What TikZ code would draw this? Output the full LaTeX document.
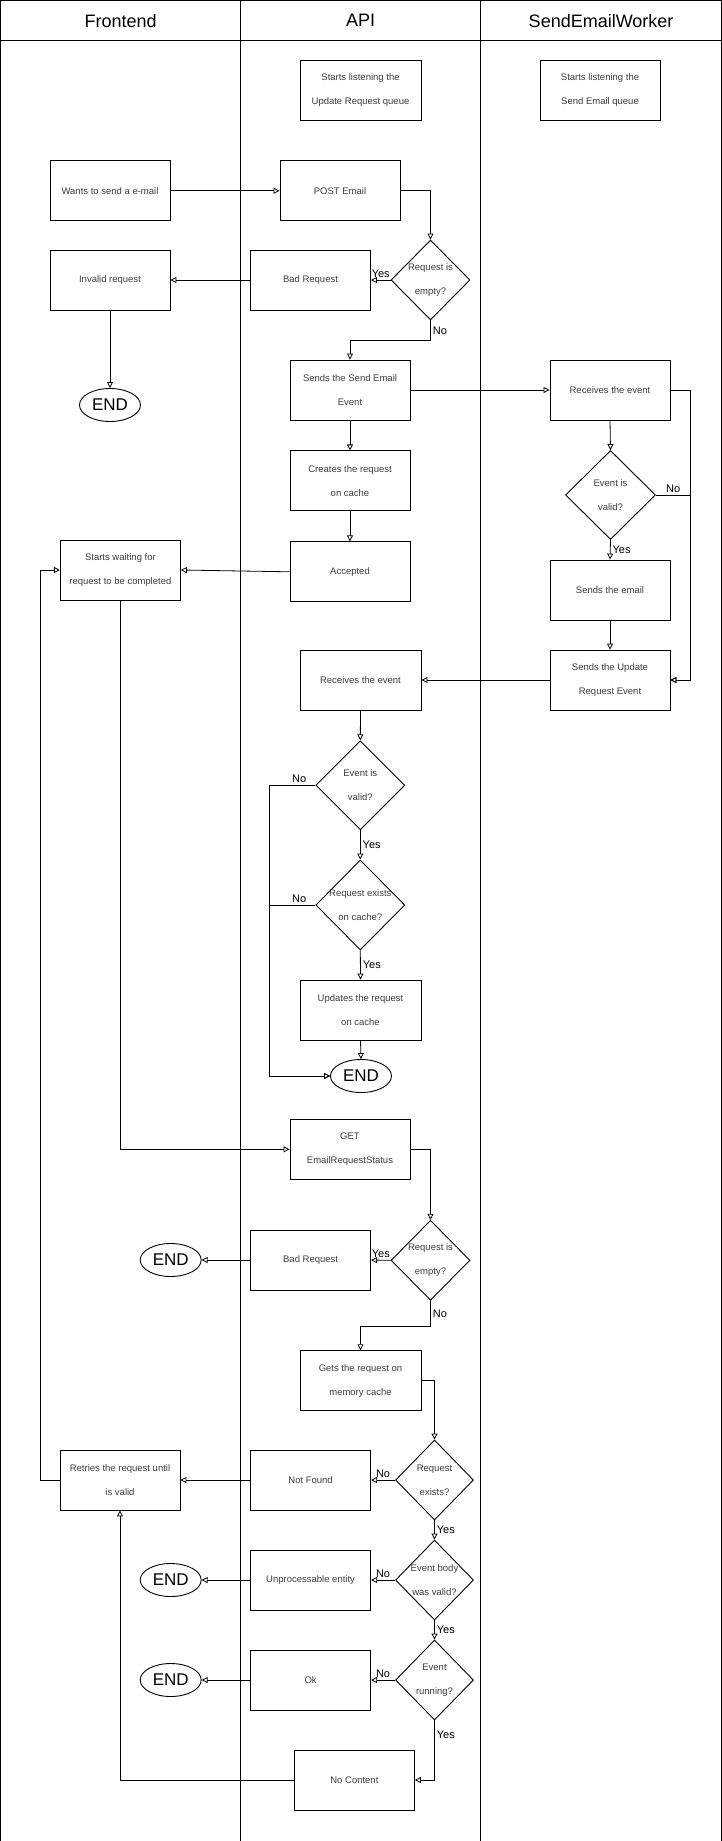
\documentclass[tikz,border=0pt]{standalone}
\usepackage{fontspec}
\setmainfont{Liberation Sans}
\usepackage{tikz}
\usetikzlibrary{positioning, arrows.meta, shapes.geometric}
\definecolor{inkgray}{RGB}{60, 60, 60}
\tikzset{
  lane/.style={
    draw=black, line width=1.2pt, anchor=north west,
    minimum width=240pt, minimum height=1841pt, inner sep=0pt,
  },
  lanehead/.style={
    draw=black, line width=1.2pt, anchor=north west,
    minimum width=240pt, minimum height=40pt, inner sep=0pt,
    font=\fontsize{18}{20}\selectfont,
  },
  stepbox/.style={
    draw=black, line width=0.9pt,
    minimum width=120pt, minimum height=60pt, inner sep=0pt,
    align=center, text=inkgray, font=\fontsize{9.5}{24}\selectfont,
  },
  decision/.style={
    draw=black, line width=0.9pt, diamond,
    minimum width=79pt, minimum height=80pt, inner sep=-6pt,
    align=center, text=inkgray, font=\fontsize{9.5}{24}\selectfont,
  },
  terminal/.style={
    draw=black, line width=0.9pt, ellipse,
    minimum width=61pt, minimum height=33pt, inner sep=0pt,
    font=\fontsize{17}{17}\selectfont,
  },
  flow/.style={draw=black, line width=0.8pt, ->},
  lbl/.style={font=\fontsize{11}{12}\selectfont, inner sep=2pt},
}

\begin{document}
\begin{tikzpicture}[x=1pt, y=1pt, node distance=30pt,
  >={Triangle[open, length=6pt, width=6pt]}]
\useasboundingbox (0,0) rectangle (721,-1841);

% swim lanes
\node[lane] (felane) at (0,0) {};
\node[lane] (apilane) at (240,0) {};
\node[lane, minimum width=241pt] (wklane) at (480,0) {};
\node[lanehead] (fehead) at (0,0) {Frontend};
\node[lanehead] (apihead) at (240,0) {API};
\node[lanehead, minimum width=241pt] (wkhead) at (480,0) {SendEmailWorker};

% listeners
\node[stepbox, minimum width=121pt] (listenapi) at (360.5,-90) {Starts listening the\\Update Request queue};
\node[stepbox] (listenwk) at (600,-90) {Starts listening the\\Send Email queue};

% POST flow
\node[stepbox] (wants) at (110,-190.7) {Wants to send a e-mail};
\node[stepbox] (post) at (340,-190.7) {POST Email};
\node[decision] (empty) at (430.5,-280) {Request is\\empty?};
\node[stepbox] (badreq) at (310.5,-280) {Bad Request};
\node[stepbox] (invalid) at (110,-280) {Invalid request};
\node[terminal] (endA) at (110,-405) {END};
\node[stepbox] (sendevent) at (350,-390) {Sends the Send Email\\Event};
\node[stepbox, below=of sendevent] (creates) {Creates the request\\on cache};
\node[stepbox, below=of creates] (accepted) {Accepted};
\node[stepbox] (waiting) at (120.4,-570) {Starts waiting for\\request to be completed};

% worker
\node[stepbox] (wkrecv) at (610,-390) {Receives the event};
\node[decision, minimum width=90pt, minimum height=89pt] (wkvalid) at (610.5,-495) {Event is\\valid?};
\node[stepbox] (wksend) at (610,-590) {Sends the email};
\node[stepbox] (wkupdate) at (610,-680) {Sends the Update\\Request Event};

% update request
\node[stepbox, minimum width=121pt] (apirecv) at (360.5,-680) {Receives the event};
\node[decision, minimum width=89pt, minimum height=89pt] (apivalid) at (360.3,-785.3) {Event is\\valid?};
\node[decision, minimum width=89pt, minimum height=90pt] (exists) at (360.3,-905) {Request exists\\on cache?};
\node[stepbox, minimum width=121pt] (updates) at (360.5,-1010) {Updates the request\\on cache};
\node[terminal] (endB) at (361,-1076) {END};

% GET flow
\node[stepbox] (getstatus) at (350,-1149.3) {GET\\EmailRequestStatus};
\node[decision] (getempty) at (430.5,-1260.3) {Request is\\empty?};
\node[stepbox] (getbad) at (310.6,-1260) {Bad Request};
\node[terminal] (endC) at (170.7,-1260) {END};
\node[stepbox, minimum width=121pt] (memget) at (360.5,-1380.7) {Gets the request on\\memory cache};
\node[decision, minimum width=78pt] (found) at (434.5,-1480) {Request\\exists?};
\node[stepbox] (notfound) at (310.6,-1480) {Not Found};
\node[stepbox] (retries) at (120,-1480) {Retries the request until\\is valid};
\node[decision, minimum width=78pt] (bodyok) at (434.5,-1580) {Event body\\was valid?};
\node[stepbox] (unproc) at (310.6,-1580) {Unprocessable entity};
\node[terminal] (endD) at (170.7,-1580) {END};
\node[decision, minimum width=78pt] (running) at (434.5,-1680) {Event\\running?};
\node[stepbox] (okbox) at (310.6,-1680) {Ok};
\node[terminal] (endE) at (170.7,-1680) {END};
\node[stepbox] (nocontent) at (354.4,-1780) {No Content};

\draw[flow] (wants.east) -- (post.west);
\draw[flow] (post.east) -| (empty.north);
\draw[flow] (empty.west) -- node[lbl, above] {Yes} (badreq.east);
\draw[flow] (badreq.west) -- (invalid.east);
\draw[flow] (invalid.south) -- (endA.north);
\draw[flow] (empty.south) -- node[lbl, right] {No} ++(0,-20) -| (sendevent.north);
\draw[flow] (sendevent.east) -- (wkrecv.west);
\draw[flow] (sendevent.south) -- (creates.north);
\draw[flow] (creates.south) -- (accepted.north);
\draw[flow] (accepted.west) -- (waiting.east);

\draw[flow] (wkrecv.south) -- (wkvalid.north);
\draw[flow] (wkvalid.south) -- node[lbl, right] {Yes} (wksend.north);
\draw[flow] (wksend.south) -- (wkupdate.north);
\draw[flow] (wkrecv.east) -- ++(20,0) |- (wkupdate.east);
\draw[flow] (wkvalid.east) -- node[lbl, above] {No} ++(34.5,0) |- (wkupdate.east);
\draw[flow] (wkupdate.west) -- (apirecv.east);

\draw[flow] (apirecv.south) -- (apivalid.north);
\draw[flow] (apivalid.south) -- node[lbl, right] {Yes} (exists.north);
\draw[flow] (exists.south) -- node[lbl, right] {Yes} (updates.north);
\draw[flow] (updates.south) -- (endB.north);
\draw[flow] (apivalid.west) -- node[lbl, above, pos=0.35] {No} ++(-46,0) |- (endB.west);
\draw[flow] (exists.west) -- node[lbl, above, pos=0.35] {No} ++(-46,0) |- (endB.west);

\draw[flow] (waiting.south) |- (getstatus.west);
\draw[flow] (getstatus.east) -| (getempty.north);
\draw[flow] (getempty.west) -- node[lbl, above] {Yes} (getbad.east);
\draw[flow] (getbad.west) -- (endC.east);
\draw[flow] (getempty.south) -- node[lbl, right] {No} ++(0,-25.7) -| (memget.north);
\draw[flow] (memget.east) -| (found.north);
\draw[flow] (found.west) -- node[lbl, above] {No} (notfound.east);
\draw[flow] (notfound.west) -- (retries.east);
\draw[flow] (found.south) -- node[lbl, right] {Yes} (bodyok.north);
\draw[flow] (bodyok.west) -- node[lbl, above] {No} (unproc.east);
\draw[flow] (unproc.west) -- (endD.east);
\draw[flow] (bodyok.south) -- node[lbl, right] {Yes} (running.north);
\draw[flow] (running.west) -- node[lbl, above] {No} (okbox.east);
\draw[flow] (okbox.west) -- (endE.east);
\draw[flow] (running.south) |- node[lbl, right, pos=0.12] {Yes} (nocontent.east);
\draw[flow] (nocontent.west) -| (retries.south);
\draw[flow] (retries.west) -- ++(-19.5,0) |- (waiting.west);

\end{tikzpicture}
\end{document}
